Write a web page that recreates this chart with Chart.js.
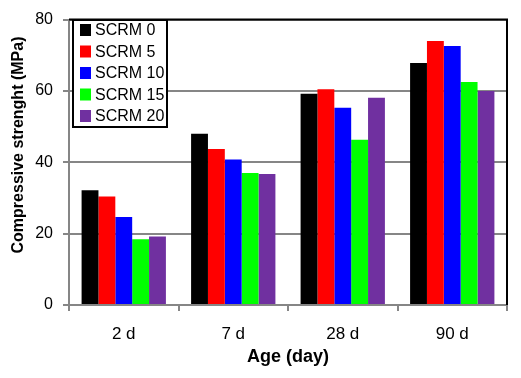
<!DOCTYPE html>
<html>
<head>
<meta charset="utf-8">
<script src="https://cdn.jsdelivr.net/npm/chart.js@4"></script>
<style>
  html, body { margin: 0; padding: 0; background: #fff; }
  #wrap { width: 521px; height: 378px; position: relative; }
</style>
</head>
<body>
<div id="wrap"><canvas id="c"></canvas></div>
<script>
  /* ── data ── */
  const AGES = ['2 d', '7 d', '28 d', '90 d'];
  const SERIES = ['SCRM 0', 'SCRM 5', 'SCRM 10', 'SCRM 15', 'SCRM 20'];
  const SCRM0  = [32.2, 48.0, 59.2, 67.8];
  const SCRM5  = [30.4, 43.7, 60.5, 74.0];
  const SCRM10 = [24.7, 40.8, 55.3, 72.6];
  const SCRM15 = [18.4, 37.0, 46.3, 62.5];
  const SCRM20 = [19.2, 36.7, 58.1, 60.0];
  const Y_TICKS = [0, 20, 40, 60, 80];
  const COLORS = ['#000000', '#ff0000', '#0000ff', '#00ff00', '#7030a0'];

  const FONT = "'Liberation Sans', Arial, sans-serif";
  const GRID = '#868686';
  const Y_TITLE = 'Compressive strenght (MPa)';

  const values = [SCRM0, SCRM5, SCRM10, SCRM15, SCRM20];
  const datasets = SERIES.map((name, i) => ({
    label: name,
    data: values[i],
    backgroundColor: COLORS[i],
    borderWidth: 0,
    categoryPercentage: 0.77,
    barPercentage: 1.0
  }));

  // frame: black top and right edges
  const framePlugin = {
    id: 'frame',
    afterDatasetsDraw(chart) {
      const { ctx, chartArea: a } = chart;
      ctx.save();
      ctx.strokeStyle = '#000';
      ctx.lineWidth = 2;
      ctx.beginPath();
      ctx.moveTo(a.left, a.top);
      ctx.lineTo(a.right, a.top);
      ctx.lineTo(a.right, a.bottom);
      ctx.stroke();
      ctx.restore();
    }
  };

  // y title sits a little above the plot centre in the original
  const yTitle = {
    id: 'yTitle',
    afterDraw(chart) {
      const { ctx } = chart;
      ctx.save();
      ctx.translate(18.5, 145);
      ctx.rotate(-Math.PI / 2);
      ctx.font = 'bold 16px ' + FONT;
      ctx.fillStyle = '#000';
      ctx.textAlign = 'center';
      ctx.textBaseline = 'middle';
      ctx.fillText(Y_TITLE, 0, 0);
      ctx.restore();
    }
  };

  // boxed legend in the top-left corner
  const legendBox = {
    id: 'legendBox',
    afterDraw(chart) {
      const { ctx } = chart;
      const x0 = 73, y0 = 20, w = 94, h = 107;
      ctx.save();
      ctx.fillStyle = '#fff';
      ctx.fillRect(x0, y0, w, h);
      ctx.strokeStyle = '#000';
      ctx.lineWidth = 2;
      ctx.strokeRect(x0, y0, w, h);
      ctx.font = '16px ' + FONT;
      ctx.textBaseline = 'middle';
      ctx.textAlign = 'left';
      chart.data.datasets.forEach((ds, i) => {
        const cy = 30 + i * 21.5;
        ctx.fillStyle = ds.backgroundColor;
        ctx.fillRect(80, cy - 6, 11, 12);
        ctx.fillStyle = '#000';
        ctx.fillText(ds.label, 95, cy + 1);
      });
      ctx.restore();
    }
  };

  new Chart(document.getElementById('c'), {
    type: 'bar',
    data: { labels: AGES, datasets },
    options: {
      responsive: true,
      maintainAspectRatio: false,
      animation: false,
      layout: { padding: { top: 13, right: 14, left: 0, bottom: 0 } },
      plugins: {
        legend: { display: false },
        tooltip: { enabled: false }
      },
      scales: {
        x: {
          grid: {
            offset: true,
            drawOnChartArea: false,
            drawTicks: true,
            tickLength: 6,
            color: GRID,
            lineWidth: 2
          },
          border: { color: GRID, width: 2 },
          ticks: {
            color: '#000',
            padding: 13,
            font: { family: FONT, size: 17 }
          },
          title: {
            display: true,
            text: 'Age (day)',
            color: '#000',
            padding: { top: 2, bottom: 10 },
            font: { family: FONT, size: 18, weight: 'bold' }
          },
          afterFit(s) { s.height = 73; }
        },
        y: {
          min: 0,
          max: 80,
          afterBuildTicks(s) { s.ticks = Y_TICKS.map(v => ({ value: v })); },
          grid: {
            color: GRID,
            lineWidth: 2,
            drawTicks: true,
            tickLength: 6
          },
          border: { color: GRID, width: 2 },
          ticks: {
            color: '#000',
            padding: 10,
            font: { family: FONT, size: 16 }
          },
          title: { display: false },
          afterFit(s) { s.width = 69; }
        }
      }
    },
    plugins: [framePlugin, legendBox, yTitle]
  });
</script>
</body>
</html>
